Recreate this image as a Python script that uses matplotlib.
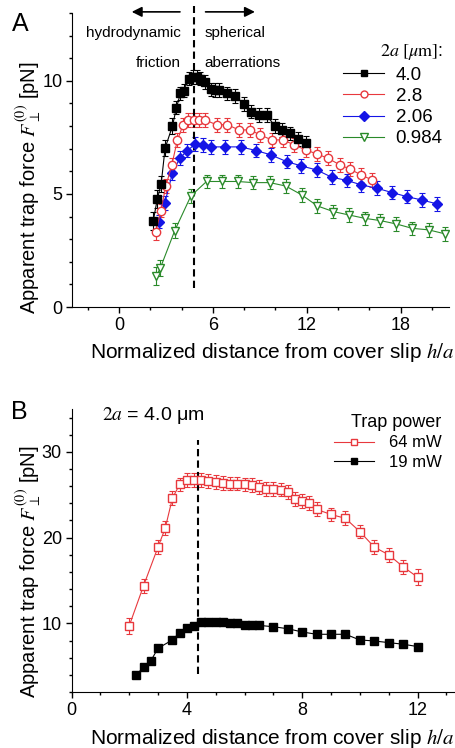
import matplotlib
matplotlib.use("Agg")
import matplotlib.pyplot as plt
from matplotlib.lines import Line2D
from matplotlib.ticker import MultipleLocator

plt.rcParams["font.family"] = ["Liberation Sans", "DejaVu Sans"]
plt.rcParams["mathtext.fontset"] = "stix"

# ---- panel A data: bead diameter 2a [um] ----
a40_x = [2.2, 2.45, 2.7, 2.95, 3.42, 3.68, 3.93, 4.13, 4.45, 4.72, 4.97, 5.2, 5.5, 5.87,
         6.13, 6.4, 6.93, 7.45, 7.97, 8.45, 8.93, 9.44, 9.95, 10.44, 10.92, 11.44, 11.95]
a40_y = [3.82, 4.77, 5.44, 7.02, 8.0, 8.82, 9.45, 9.57, 10.1, 10.16, 10.16, 10.1, 9.96, 9.62,
         9.6, 9.6, 9.45, 9.33, 8.98, 8.64, 8.5, 8.5, 8.0, 7.83, 7.68, 7.42, 7.24]
a40_e = [0.4, 0.4, 0.35, 0.35, 0.35, 0.3, 0.3, 0.3, 0.3, 0.3, 0.3, 0.3, 0.3, 0.3,
         0.3, 0.3, 0.3, 0.3, 0.3, 0.3, 0.3, 0.3, 0.3, 0.3, 0.3, 0.3, 0.3]

a28_x = [2.36, 2.68, 3.0, 3.38, 3.74, 4.1, 4.44, 4.8, 5.15, 5.5, 6.24, 6.93, 7.67, 8.37,
         9.03, 9.76, 10.5, 11.18, 11.93, 12.64, 13.36, 14.13, 14.8, 15.5, 16.18]
a28_y = [3.33, 4.26, 5.35, 6.28, 7.39, 8.05, 8.27, 8.27, 8.27, 8.27, 8.06, 8.06, 7.83, 7.83,
         7.61, 7.39, 7.39, 7.17, 6.95, 6.77, 6.58, 6.28, 6.09, 5.83, 5.62]
a28_e = [0.35, 0.3, 0.3, 0.3, 0.3, 0.3, 0.3, 0.3, 0.3, 0.3, 0.3, 0.3, 0.3, 0.3,
         0.3, 0.3, 0.3, 0.3, 0.3, 0.3, 0.3, 0.3, 0.3, 0.3, 0.3]

a206_x = [2.53, 2.93, 3.42, 3.89, 4.38, 4.87, 5.4, 5.87, 6.8, 7.78, 8.76, 9.7, 10.72, 11.65,
          12.64, 13.6, 14.55, 15.5, 16.5, 17.46, 18.41, 19.37, 20.33]
a206_y = [3.78, 4.59, 5.92, 6.58, 6.92, 7.2, 7.17, 7.08, 7.08, 7.08, 6.92, 6.73, 6.43, 6.24,
          6.06, 5.74, 5.6, 5.4, 5.25, 5.06, 4.88, 4.73, 4.56]
a206_e = [0.3, 0.3, 0.3, 0.3, 0.3, 0.3, 0.3, 0.3, 0.3, 0.3, 0.3, 0.3, 0.3, 0.3,
          0.3, 0.3, 0.3, 0.3, 0.3, 0.3, 0.3, 0.3, 0.3]

a0984_x = [2.4, 2.64, 3.57, 4.6, 5.6, 6.6, 7.58, 8.58, 9.64, 10.66, 11.68, 12.68, 13.7,
           14.7, 15.72, 16.72, 17.74, 18.74, 19.8, 20.87]
a0984_y = [1.37, 1.71, 3.38, 4.91, 5.55, 5.55, 5.55, 5.5, 5.5, 5.35, 4.96, 4.47, 4.22,
           4.07, 3.92, 3.82, 3.67, 3.48, 3.41, 3.23]
a0984_e = [0.4, 0.35, 0.35, 0.3, 0.3, 0.3, 0.3, 0.3, 0.3, 0.3, 0.3, 0.3, 0.3,
           0.3, 0.3, 0.3, 0.3, 0.3, 0.3, 0.3]

# ---- panel B data: 2a = 4.0 um, two trap powers ----
p64_x = [2.0, 2.5, 3.0, 3.25, 3.5, 3.75, 4.0, 4.25, 4.5, 4.75, 5.0, 5.25, 5.5, 5.75, 6.0,
         6.25, 6.5, 6.75, 7.0, 7.25, 7.5, 7.75, 8.0, 8.25, 8.5, 9.0, 9.5, 10.0, 10.5,
         11.0, 11.5, 12.0]
p64_y = [9.7, 14.4, 18.9, 21.1, 24.6, 26.2, 26.7, 26.75, 26.7, 26.6, 26.5, 26.4, 26.3, 26.3,
         26.2, 26.1, 25.9, 25.7, 25.7, 25.6, 25.3, 24.5, 24.3, 24.0, 23.3, 22.7, 22.25,
         20.7, 18.9, 18.0, 16.6, 15.4]
p64_e = [0.9, 0.8, 0.8, 0.8, 0.8, 0.8, 0.8, 0.8, 0.8, 0.8, 0.8, 0.8, 0.8, 0.8, 0.8,
         0.8, 0.8, 0.8, 0.8, 0.8, 0.8, 0.8, 0.8, 0.8, 0.8, 0.8, 0.8, 0.8, 0.8,
         0.8, 0.8, 0.9]

p19_x = [2.25, 2.5, 2.75, 3.0, 3.5, 3.75, 4.0, 4.25, 4.5, 4.75, 5.0, 5.25, 5.5, 5.75, 6.0,
         6.25, 6.5, 7.0, 7.5, 8.0, 8.5, 9.0, 9.5, 10.0, 10.5, 11.0, 11.5, 12.0]
p19_y = [3.97, 4.94, 5.63, 7.1, 8.07, 8.92, 9.5, 9.69, 10.15, 10.15, 10.15, 10.15, 10.0, 10.0,
         9.77, 9.77, 9.77, 9.61, 9.38, 9.0, 8.73, 8.73, 8.73, 8.07, 7.95, 7.76, 7.57, 7.3]

RED = "#e8383d"
BLUE = "#1414e6"
GREEN = "#2a8a2a"
W, H = 455, 748
YLABEL = r"Apparent trap force $F_{\perp}^{(0)}$ [pN]"
XLABEL = r"Normalized distance from cover slip $h/a$"


def style_axes(ax):
    ax.spines["top"].set_visible(False)
    ax.spines["right"].set_visible(False)
    ax.tick_params(which="major", direction="out", length=4, width=1, labelsize=13, pad=3)
    ax.tick_params(which="minor", direction="out", length=2, width=1)


fig = plt.figure(figsize=(W / 100, H / 100), dpi=100)

# ================= panel A =================
axA = fig.add_axes([72 / W, 1 - 307 / H, (449 - 72) / W, (307 - 13) / H])
style_axes(axA)
ebkw = dict(capsize=2.5, elinewidth=0.8, capthick=0.8, lw=0.8)
axA.errorbar(a0984_x, a0984_y, yerr=a0984_e, color=GREEN, marker="v", ms=6,
             mfc="white", mec=GREEN, **ebkw)
axA.errorbar(a206_x, a206_y, yerr=a206_e, color=BLUE, marker="D", ms=5, **ebkw)
axA.errorbar(a28_x, a28_y, yerr=a28_e, color=RED, marker="o", ms=6,
             mfc="white", mec=RED, **ebkw)
axA.errorbar(a40_x, a40_y, yerr=a40_e, color="black", marker="s", ms=5.5, **ebkw)

axA.set_xlim(-3, 21.1)
axA.set_ylim(0, 13)
axA.xaxis.set_major_locator(MultipleLocator(6))
axA.xaxis.set_minor_locator(MultipleLocator(2))
axA.yaxis.set_major_locator(MultipleLocator(5))
axA.yaxis.set_minor_locator(MultipleLocator(1))

axA.plot([4.8, 4.8], [0.85, 13.3], color="black", lw=1.5, ls=(0, (3.5, 2)),
         clip_on=False)
axA.annotate("", xy=(0.64, 13.05), xytext=(4.08, 13.05), annotation_clip=False,
             arrowprops=dict(arrowstyle="-|>", color="black", lw=1.2, mutation_scale=15))
axA.annotate("", xy=(8.87, 13.05), xytext=(5.36, 13.05), annotation_clip=False,
             arrowprops=dict(arrowstyle="-|>", color="black", lw=1.2, mutation_scale=15))
axA.text(3.96, 12.12, "hydrodynamic", ha="right", va="center", fontsize=11)
axA.text(3.96, 10.8, "friction", ha="right", va="center", fontsize=11)
axA.text(5.49, 12.12, "spherical", ha="left", va="center", fontsize=11)
axA.text(5.49, 10.8, "aberrations", ha="left", va="center", fontsize=11)

handlesA = [
    Line2D([], [], color="black", marker="s", ms=5, lw=0.8),
    Line2D([], [], color=RED, marker="o", ms=5, mfc="white", lw=0.8),
    Line2D([], [], color=BLUE, marker="D", ms=5, lw=0.8),
    Line2D([], [], color=GREEN, marker="v", ms=5.5, mfc="white", lw=0.8),
]
axA.legend(handlesA, ["4.0", "2.8", "2.06", "0.984"],
           title=r"$2a\ [\mu\mathrm{m}]$:", loc="upper right",
           bbox_to_anchor=(452 / W, 1 - 33 / H), bbox_transform=fig.transFigure,
           frameon=False, fontsize=13.5, title_fontsize=13, borderpad=0,
           handlelength=2.2, handletextpad=0.6, labelspacing=0.22,
           alignment="right")

fig.text(20 / W, 1 - 24 / H, "A", fontsize=18, ha="center", va="center")
fig.text(28 / W, 1 - 188 / H, YLABEL, rotation=90, ha="center", va="center",
         fontsize=14.5)
fig.text(272 / W, 1 - 352 / H, XLABEL, ha="center", va="center", fontsize=15)

# ================= panel B =================
axB = fig.add_axes([71.5 / W, 1 - 692 / H, (W - 71.5) / W, (692 - 409) / H])
style_axes(axB)
axB.errorbar(p64_x, p64_y, yerr=p64_e, color=RED, marker="s", ms=5.5,
             mfc="white", mec=RED, **ebkw)
axB.plot(p19_x, p19_y, color="black", marker="s", ms=5.5, lw=0.8)

axB.set_xlim(0, 13.3)
axB.set_ylim(2, 35)
axB.xaxis.set_major_locator(MultipleLocator(4))
axB.xaxis.set_minor_locator(MultipleLocator(1))
axB.yaxis.set_major_locator(MultipleLocator(10))
axB.yaxis.set_minor_locator(MultipleLocator(2))

axB.plot([4.4, 4.4], [4.1, 31.4], color="black", lw=1.5, ls=(0, (3.5, 2)))
axB.text(102 / W, 1 - 415 / H, r"$2a$ = 4.0 μm", transform=fig.transFigure,
         ha="left", va="center", fontsize=14)

handlesB = [
    Line2D([], [], color=RED, marker="s", ms=5, mfc="white", lw=0.8),
    Line2D([], [], color="black", marker="s", ms=5, lw=0.8),
]
axB.legend(handlesB, ["64 mW", "19 mW"], title="Trap power", loc="upper right",
           bbox_to_anchor=(450 / W, 1 - 406 / H), bbox_transform=fig.transFigure,
           frameon=False, fontsize=12, title_fontsize=13, borderpad=0,
           handlelength=2.4, handletextpad=0.9, labelspacing=0.25, alignment="right")

fig.text(19 / W, 1 - 412 / H, "B", fontsize=18, ha="center", va="center")
fig.text(28 / W, 1 - 572 / H, YLABEL, rotation=90, ha="center", va="center",
         fontsize=14.5)
fig.text(272 / W, 1 - 738 / H, XLABEL, ha="center", va="center", fontsize=15)

fig.savefig("out.png", dpi=100)
